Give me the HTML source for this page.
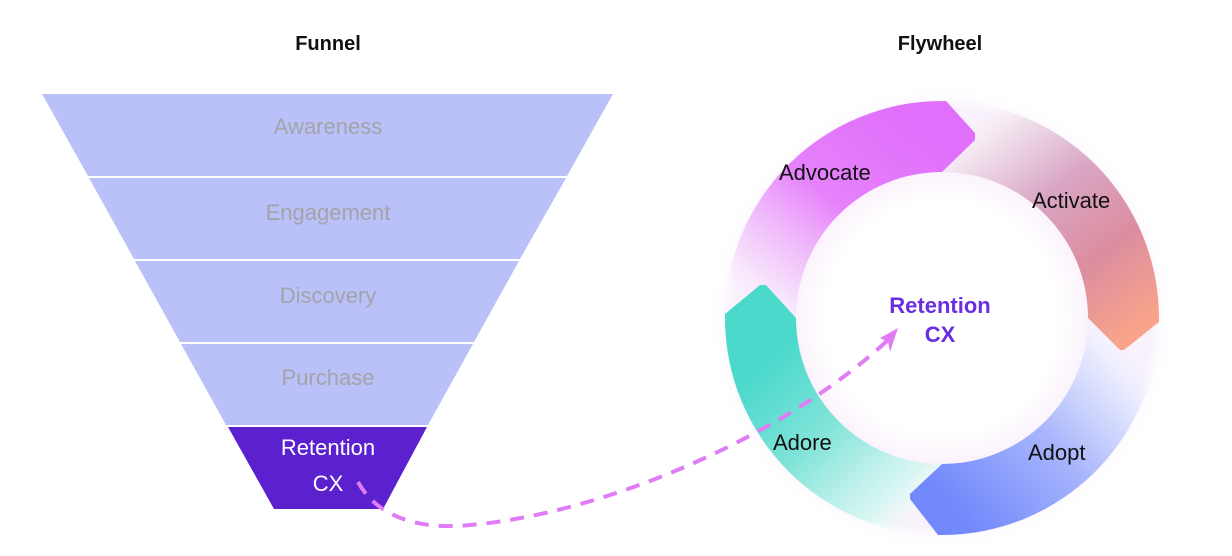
<!DOCTYPE html>
<html><head><meta charset="utf-8"><style>
html,body{margin:0;padding:0;background:#fff;}
svg{display:block;font-family:"Liberation Sans",sans-serif;}
</style></head><body>
<svg width="1232" height="556" viewBox="0 0 1232 556" xmlns="http://www.w3.org/2000/svg">
<defs>
<linearGradient id="gAdv" gradientUnits="userSpaceOnUse" x1="755" y1="310" x2="910" y2="120">
<stop offset="0" stop-color="#f8e4fc" stop-opacity="0"/><stop offset="0.15" stop-color="#f5d6fb" stop-opacity="0.8"/><stop offset="0.55" stop-color="#e681fb"/><stop offset="1" stop-color="#e070fb"/></linearGradient>
<linearGradient id="gAct" gradientUnits="userSpaceOnUse" x1="965" y1="120" x2="1130" y2="335">
<stop offset="0" stop-color="#f8eff5" stop-opacity="0"/><stop offset="0.15" stop-color="#eedbe8" stop-opacity="0.9"/><stop offset="0.4" stop-color="#d9a6c4"/><stop offset="0.7" stop-color="#dc8d9f"/><stop offset="1" stop-color="#f9a48a"/></linearGradient>
<linearGradient id="gAdp" gradientUnits="userSpaceOnUse" x1="1130" y1="345" x2="950" y2="505">
<stop offset="0" stop-color="#f0f2ff" stop-opacity="0"/><stop offset="0.15" stop-color="#e4e8fe" stop-opacity="0.9"/><stop offset="0.5" stop-color="#a9b6fc"/><stop offset="1" stop-color="#7189fb"/></linearGradient>
<linearGradient id="gAdr" gradientUnits="userSpaceOnUse" x1="920" y1="515" x2="770" y2="360">
<stop offset="0" stop-color="#eefcfa" stop-opacity="0"/><stop offset="0.15" stop-color="#d8f7f3" stop-opacity="0.9"/><stop offset="0.6" stop-color="#7fe3d8"/><stop offset="1" stop-color="#4bd9cc"/></linearGradient>
<radialGradient id="glow" cx="942" cy="318" r="232" gradientUnits="userSpaceOnUse">
<stop offset="0.6" stop-color="#fbf6fd"/><stop offset="0.9" stop-color="#f6eefb" stop-opacity="0.8"/><stop offset="1" stop-color="#fff" stop-opacity="0"/></radialGradient>
<radialGradient id="inner" cx="942" cy="318" r="146" gradientUnits="userSpaceOnUse">
<stop offset="0.8" stop-color="#fff"/><stop offset="1" stop-color="#fbf3fc"/></radialGradient>
</defs>

<text x="328" y="50" text-anchor="middle" font-size="20" font-weight="bold" fill="#111">Funnel</text>
<text x="940" y="50" text-anchor="middle" font-size="20" font-weight="bold" fill="#111">Flywheel</text>

<!-- Funnel -->
<polygon points="42,94 613,94 567,176 88,176" fill="#b9c1f8"/>
<polygon points="89,178 566,178 520,259 134,259" fill="#b9c1f8"/>
<polygon points="135,261 519,261 474,342 180,342" fill="#b9c1f8"/>
<polygon points="181,344 473,344 428,425 226,425" fill="#b9c1f8"/>
<polygon points="228,427 427,427 383,509 274,509" fill="#5b21cf"/>
<g font-size="22" fill="#a3a3a9" text-anchor="middle">
<text x="328" y="134">Awareness</text>
<text x="328" y="220">Engagement</text>
<text x="328" y="303">Discovery</text>
<text x="328" y="385">Purchase</text>
</g>
<text x="328" y="455" text-anchor="middle" font-size="22" fill="#fff">Retention</text>
<text x="328" y="491" text-anchor="middle" font-size="22" fill="#fff">CX</text>

<!-- Flywheel -->
<circle cx="942" cy="318" r="232" fill="url(#glow)"/>
<circle cx="942" cy="318" r="146" fill="url(#inner)"/>
<path d="M942,101 A217,217 0 0 1 1159,318 L1088,318 A146,146 0 0 0 942,172 Z" fill="url(#gAct)"/>
<path d="M1159,318 A217,217 0 0 1 942,535 L942,464 A146,146 0 0 0 1088,318 Z" fill="url(#gAdp)"/>
<path d="M942,535 A217,217 0 0 1 725,318 L796,318 A146,146 0 0 0 942,464 Z" fill="url(#gAdr)"/>
<path d="M725,318 A217,217 0 0 1 942,101 L942,172 A146,146 0 0 0 796,318 Z" fill="url(#gAdv)"/>
<!-- heads on top -->
<path d="M1159,317 L1159,322 L1124,350 L1120,350 L1088,318 L1088,317 Z" fill="url(#gAct)"/>
<path d="M943,535 L938,535 L910,499 L910,494 L942,464 L943,464 Z" fill="url(#gAdp)"/>
<path d="M725,319 L725,314 L760,285 L766,285 L796,318 L796,319 Z" fill="url(#gAdr)"/>
<path d="M941,101 L946,101 L975,133 L975,140 L942,172 L941,172 Z" fill="url(#gAdv)"/>

<g font-size="22" fill="#111">
<text x="779" y="180">Advocate</text>
<text x="1032" y="208">Activate</text>
<text x="1028" y="460">Adopt</text>
<text x="773" y="450">Adore</text>
</g>
<g font-size="22" font-weight="bold" fill="#6a2de0" text-anchor="middle">
<text x="940" y="313">Retention</text>
<text x="940" y="342">CX</text>
</g>

<!-- dashed arrow -->
<path d="M358,482 C378,518 420,530 470,525 C600,514 780,440 888,340" fill="none" stroke="#e07cf5" stroke-width="4" stroke-dasharray="14 10"/>
<polygon points="898,328 880,338 888,342 890,352" fill="#e07cf5"/>
</svg>
</body></html>
